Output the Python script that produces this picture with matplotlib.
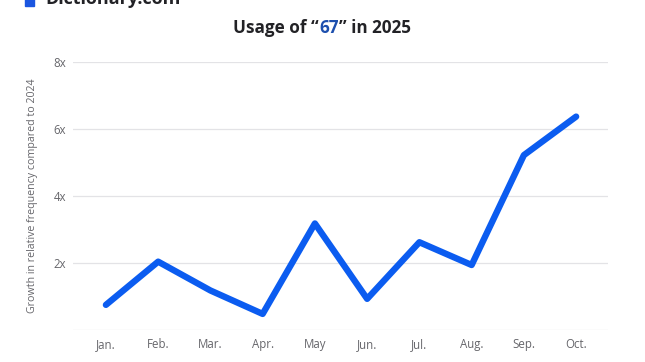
import matplotlib
matplotlib.use("Agg")
import matplotlib.pyplot as plt

months = ["Jan.", "Feb.", "Mar.", "Apr.", "May", "Jun.", "Jul.", "Aug.", "Sep.", "Oct."]
growth = [0.75, 2.04, 1.18, 0.48, 3.18, 0.93, 2.62, 1.94, 5.22, 6.37]
yticks = [2, 4, 6, 8]
ytick_labels = ["2x", "4x", "6x", "8x"]

plt.rcParams['font.family'] = ['Open Sans', 'DejaVu Sans']

fig = plt.figure(figsize=(6.45, 3.62), dpi=100)
ax = fig.add_axes([73/645, 1-330/362, (608-73)/645, (330-62)/362])

x = list(range(len(months)))
ax.plot(x, growth, color="#0b5cf0", lw=4.6, solid_capstyle="round", solid_joinstyle="round", zorder=3)

ax.set_xlim(-0.63, 9.61)
ax.set_ylim(0, 8)
for yv in [0] + yticks:
    ax.axhline(yv, color="#e3e3e6", lw=0.9, zorder=1)
ax.set_yticks(yticks)
ax.set_yticklabels(ytick_labels)
ax.set_xticks(x)
ax.set_xticklabels(months)
ax.tick_params(axis="both", length=0, colors="#66666b", labelsize=8.3)
ax.tick_params(axis="y", pad=5)
ax.tick_params(axis="x", pad=5.5)
for s in ax.spines.values():
    s.set_visible(False)
ax.set_ylabel("Growth in relative frequency compared to 2024", color="#66666b", fontsize=7.7, labelpad=11)

# Title with coloured "67"
parts = [("Usage of \u201c", "#222226"), ("67", "#1d4fae"), ("\u201d in 2025", "#222226")]
fig.canvas.draw()
r = fig.canvas.get_renderer()
texts = []
for s, c in parts:
    t = fig.text(0, 1-28/362, s, color=c, fontsize=12.3, fontweight="bold", va="center", ha="left")
    texts.append(t)
widths = [t.get_window_extent(r).width for t in texts]
total = sum(widths)
start = 322 - total/2
for t, w in zip(texts, widths):
    t.set_x(start/645)
    start += w

# cut-off logo at top
fig.text(45/645, 1-4/362, "Dictionary.com", color="#222226", fontsize=13, fontweight="bold", va="baseline", ha="left")
fig.patches.append(plt.Rectangle((25/645, 1-6/362), 9/645, 10/362, transform=fig.transFigure, color="#1a56e0", figure=fig))

fig.savefig("out.png", dpi=100)
